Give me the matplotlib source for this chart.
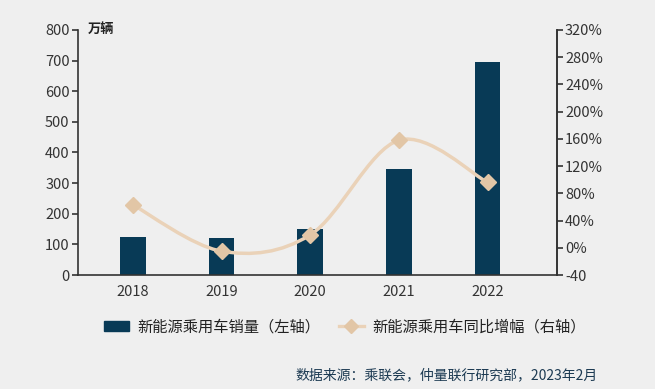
import numpy as np
import matplotlib
matplotlib.use('Agg')
import matplotlib.pyplot as plt
from matplotlib.path import Path
from matplotlib.patches import PathPatch
from matplotlib.lines import Line2D
from matplotlib.patches import Patch

plt.rcParams['font.family'] = ['Noto Sans CJK SC', 'DejaVu Sans']

years = ['2018', '2019', '2020', '2021', '2022']
sales = [125, 121, 149, 346, 697]          # 万辆
growth = [63, -5, 19, 158, 96]             # %
right_ticks = [-40, 0, 40, 80, 120, 160, 200, 240, 280, 320]
right_labels = ['-40'] + ['%d%%' % t for t in right_ticks[1:]]

bar_color = '#083a56'
line_color = '#ead2b8'
marker_color = '#e2c6a6'
bg = '#efefef'
ink = '#333333'

fig = plt.figure(figsize=(6.55, 3.89), dpi=100, facecolor=bg)
ax = fig.add_axes([0.119, 0.293, 0.731, 0.630])
ax.set_facecolor(bg)
x = np.arange(len(years))
ax.bar(x, sales, width=0.29, color=bar_color, zorder=2)
ax.set_xlim(-0.62, 4.78)
ax.set_ylim(0, 800)
ax.set_yticks(range(0, 801, 100))
ax.set_xticks(x)
ax.set_xticklabels(years)
ax.spines['top'].set_visible(False)
for s in ['left', 'bottom', 'right']:
    ax.spines[s].set_color(ink)
    ax.spines[s].set_linewidth(1.2)
ax.tick_params(axis='x', length=0, pad=7, labelsize=10.5, colors=ink)
ax.tick_params(axis='y', length=4, width=1.2, labelsize=10.5, colors=ink, pad=2)

ax2 = ax.twinx()
ax2.set_ylim(-40, 320)
ax2.set_yticks(right_ticks)
ax2.set_yticklabels(right_labels)
ax2.spines['top'].set_visible(False)
ax2.spines['left'].set_visible(False)
ax2.spines['bottom'].set_visible(False)
ax2.spines['right'].set_color(ink)
ax2.spines['right'].set_linewidth(1.2)
ax2.tick_params(axis='y', length=4, width=1.2, labelsize=10.5, colors=ink, pad=2)

# smooth curve through the points (Catmull-Rom as cubic Bezier segments)
pts = np.column_stack([x, growth]).astype(float)
verts = [tuple(pts[0])]
codes = [Path.MOVETO]
n = len(pts)
for i in range(n - 1):
    p0 = pts[max(i - 1, 0)]
    p1 = pts[i]
    p2 = pts[i + 1]
    p3 = pts[min(i + 2, n - 1)]
    c1 = p1 + (p2 - p0) / 6
    c2 = p2 - (p3 - p1) / 6
    verts += [tuple(c1), tuple(c2), tuple(p2)]
    codes += [Path.CURVE4] * 3
ax2.add_patch(PathPatch(Path(verts, codes), facecolor='none', edgecolor=line_color,
                        lw=2.5, zorder=3))
ax2.plot(x, growth, linestyle='none', marker='D', markersize=8.5,
         color=marker_color, zorder=4)

fig.text(0.134, 0.925, '万辆', fontsize=9.5, fontweight='bold', color='#222222',
         va='center', ha='left')

handles = [Patch(color=bar_color),
           Line2D([0], [0], color=line_color, lw=2.4, marker='D', markersize=7,
                  markerfacecolor=marker_color, markeredgecolor=marker_color)]
fig.legend(handles, ['新能源乘用车销量（左轴）', '新能源乘用车同比增幅（右轴）'],
           loc='center', bbox_to_anchor=(0.527, 0.16), ncol=2, frameon=False,
           fontsize=11, handlelength=1.6, handleheight=0.65, handletextpad=0.6,
           columnspacing=1.2, labelcolor='#222222')

fig.text(0.912, 0.035, '数据来源：乘联会，仲量联行研究部，2023年2月', fontsize=10,
         color='#1c3a52', ha='right', va='center')

fig.savefig('out.png', dpi=100, facecolor=bg)
